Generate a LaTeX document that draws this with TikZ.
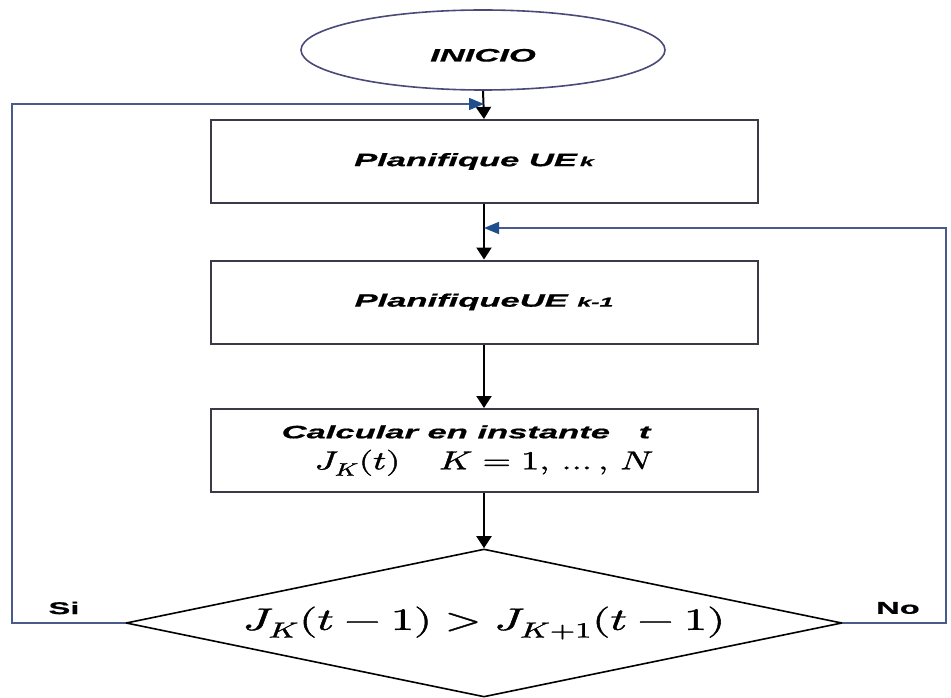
\documentclass[tikz,border=0pt]{standalone}
\usepackage{fontspec}
\usepackage{unicode-math}
\setmainfont{Liberation Sans}
\setmathfont{Latin Modern Math}[FakeBold=1.2]
\newfontfamily\lbl[FakeStretch=1.92,FakeBold=0.8]{Liberation Sans}
\usetikzlibrary{shapes.geometric,arrows.meta}
\definecolor{boxc}{HTML}{3A3A48}
\definecolor{ellc}{HTML}{4A4A78}
\definecolor{loopc}{HTML}{4A5A8C}
\definecolor{arrowc}{HTML}{1F4E8C}
\tikzset{
  txt/.style={font=\lbl\bfseries\itshape\fontsize{18}{21}\selectfont},
  lab/.style={font=\lbl\bfseries\fontsize{17}{20}\selectfont},
  startnode/.style={ellipse, draw=ellc, line width=1.6pt, minimum width=364pt, minimum height=80pt, inner sep=0pt, fill=white, txt},
  procbox/.style={rectangle, draw=boxc, line width=2pt, minimum width=547pt, minimum height=83pt, inner sep=0pt, fill=white, txt},
  decision/.style={diamond, aspect=4.8, draw=black, line width=1.6pt, minimum width=716pt, minimum height=148pt, inner sep=0pt, fill=white},
  flow/.style={black, line width=2pt, -{Triangle[width=15pt,length=12pt]}},
  loopline/.style={draw=loopc, line width=1.6pt, -{Triangle[width=12pt,length=15pt,color=arrowc]}}
}
\begin{document}
\begin{tikzpicture}[x=1pt,y=-1pt]
\useasboundingbox[fill=white] (0,0) rectangle (951,698);
\node[startnode] (inicio) at (483,50) {\raisebox{-11.5pt}[0pt][0pt]{INICIO}};
\node[procbox] (p1) at (484,161.5) {\hspace*{-20pt}Planifique UE\,{\fontsize{13}{15}\selectfont k}};
\node[procbox] (p2) at (484,302) {PlanifiqueUE {\fontsize{13}{15}\selectfont k-1}};
\node[procbox, align=center] (p3) at (484,450.5) {Calcular en instante\ \ \ t\hspace*{36pt}\\[10pt]
  {\fontsize{26}{28}\selectfont\scalebox{1.4}[1]{$J_K(t)\ \ K=1,\,\dots,\,N$}}};
\node[decision] (d) at (484,623) {\fontsize{31}{33}\selectfont\scalebox{1.5}[1]{$J_K(t-1)>J_{K+1}(t-1)$}};
\coordinate (m1) at (484,104);
\coordinate (m2) at (484,228);
\coordinate (tl) at (12,104);
\coordinate (tr) at (946,228);
\draw[flow] (inicio.south) -- (p1.north);
\draw[flow] (p1.south) -- (p2.north);
\draw[flow] (p2.south) -- (p3.north);
\draw[flow] (p3.south) -- (d.north);
\draw[loopline] (d.west) -| (tl) -- (m1);
\draw[loopline] (d.east) -| (tr) -- (m2);
\node[lab] (si) at (64,608) {Si};
\node[lab] (no) at (898,608) {No};
\end{tikzpicture}
\end{document}
